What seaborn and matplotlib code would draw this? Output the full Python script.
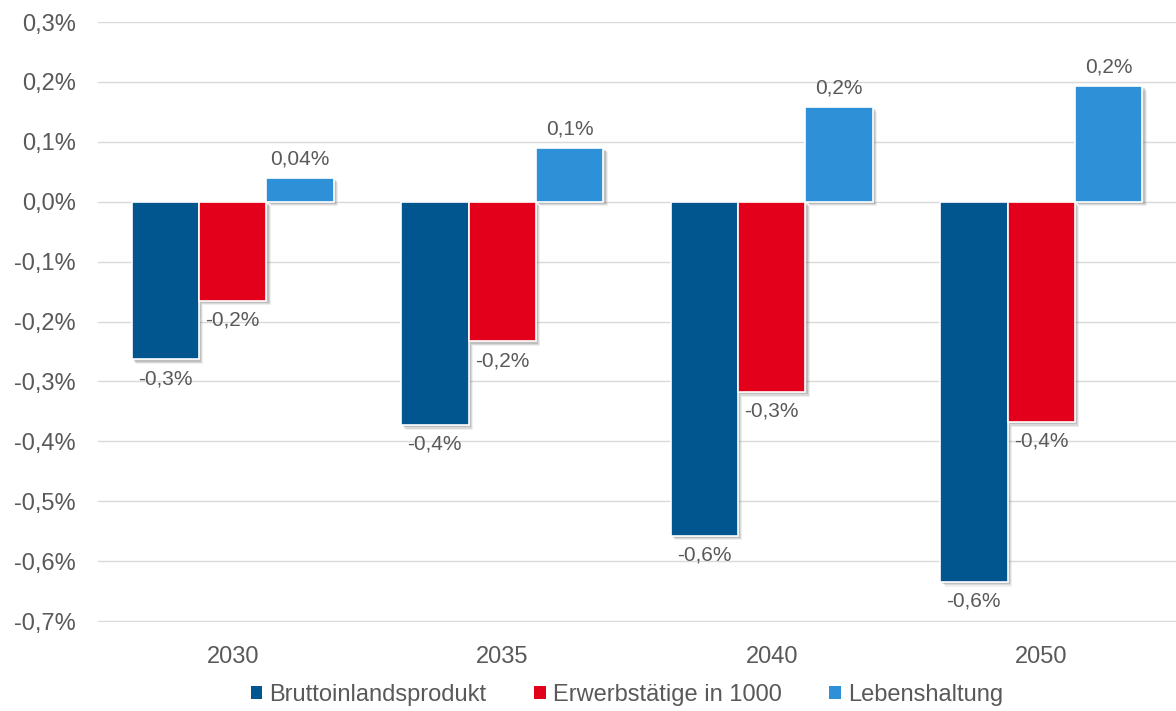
import matplotlib
matplotlib.use("Agg")
import matplotlib.pyplot as plt
import matplotlib.patheffects as pe
from matplotlib.patches import Patch
from matplotlib.ticker import FuncFormatter
import pandas as pd
import seaborn as sns

# Veränderung gegenüber Referenz in Prozent
jahre = ["2030", "2035", "2040", "2050"]
bruttoinlandsprodukt = [-0.263, -0.373, -0.558, -0.635]
erwerbstaetige = [-0.165, -0.233, -0.318, -0.368]
lebenshaltung = [0.04, 0.09, 0.158, 0.193]

reihen = ["Bruttoinlandsprodukt", "Erwerbstätige in 1000", "Lebenshaltung"]
farben = ["#02568F", "#E2001A", "#2E90D6"]

df = pd.DataFrame({
    "Jahr": jahre * 3,
    "Reihe": [reihen[0]] * 4 + [reihen[1]] * 4 + [reihen[2]] * 4,
    "Wert": bruttoinlandsprodukt + erwerbstaetige + lebenshaltung,
})

sns.set_theme(style="white")
plt.rcParams["font.family"] = ["Liberation Sans", "DejaVu Sans"]
text_farbe = "#595959"

fig = plt.figure(figsize=(11.76, 7.11), dpi=100)
ax = fig.add_axes([0.0833, 0.1252, 0.9167, 0.8438])

sns.barplot(data=df, x="Jahr", y="Wert", hue="Reihe", order=jahre,
            hue_order=reihen, palette=farben, width=0.75,
            edgecolor="white", linewidth=1.2, saturation=1, ax=ax,
            legend=False, errorbar=None)

# weicher Schlagschatten nach rechts unten
schatten = [pe.SimplePatchShadow(offset=(d, -d), shadow_rgbFace="#666666", alpha=a)
            for d, a in ((3.2, 0.10), (2.4, 0.16), (1.6, 0.22))] + [pe.Normal()]


def fmt_wert(v):
    s = f"{v:.2f}" if abs(v) < 0.05 else f"{v:.1f}"
    return s.replace(".", ",") + "%"


for container in ax.containers:
    for bar in container:
        bar.set_path_effects(schatten)
    werte = [b.get_height() for b in container]
    ax.bar_label(container, labels=[fmt_wert(v) for v in werte],
                 padding=7, fontsize=15, color=text_farbe)

ax.set_ylim(-0.7015, 0.3)
ax.set_xlim(-0.5, 3.5)
ax.set_yticks([i / 10 for i in range(-7, 4)])
ax.yaxis.set_major_formatter(FuncFormatter(
    lambda v, _: f"{v:.1f}".replace(".", ",").replace("-0,0", "0,0") + "%"))
ax.grid(axis="y", color="#D9D9D9", linewidth=1)
ax.set_axisbelow(True)
for s in ax.spines.values():
    s.set_visible(False)
ax.tick_params(axis="both", length=0, labelsize=17, colors=text_farbe)
ax.tick_params(axis="x", pad=17)
ax.tick_params(axis="y", pad=16)
ax.set_xlabel("")
ax.set_ylabel("")

handles = [Patch(facecolor=c, edgecolor="none") for c in farben]
fig.legend(handles, reihen, loc="center", bbox_to_anchor=(0.533, 0.023),
           ncol=3, frameon=False, fontsize=17, labelcolor=text_farbe,
           handlelength=0.5, handleheight=0.5, handletextpad=0.3,
           columnspacing=2.0)

fig.savefig("out.png", dpi=100)
